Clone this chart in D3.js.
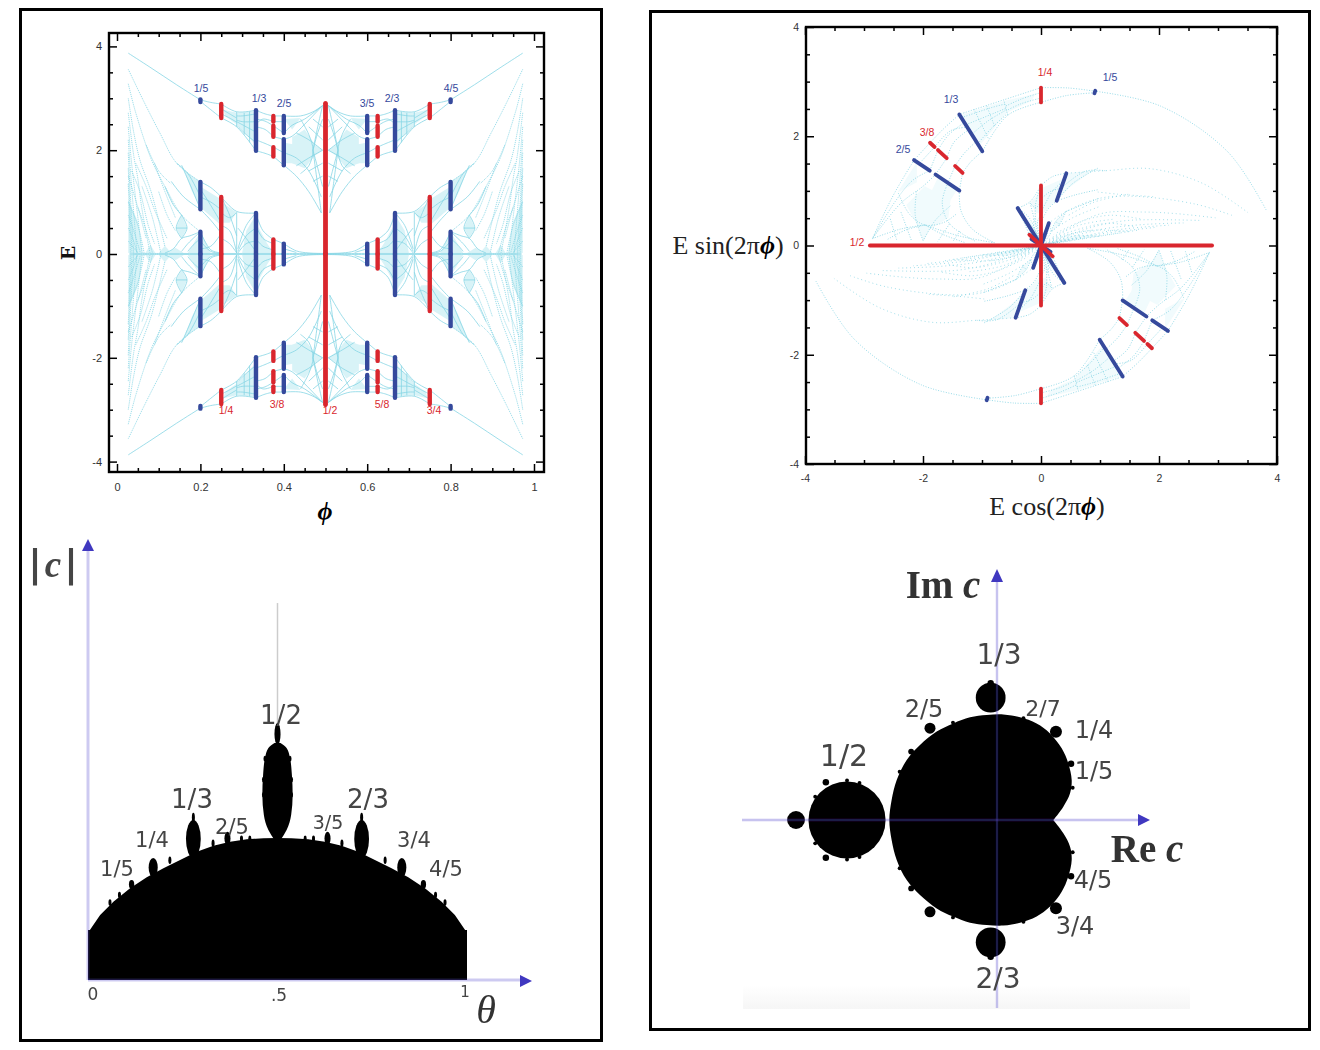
<!DOCTYPE html>
<html><head><meta charset="utf-8"><title>Butterfly and Mandelbrot</title>
<script src="https://cdn.jsdelivr.net/npm/d3@7/dist/d3.min.js"></script>
<style>html,body{margin:0;padding:0;background:#fff}svg{display:block}</style></head>
<body><svg id="c" width="1320" height="1050"></svg>
<script>
// ---------- Butterfly data: one quadrant (phi <= .5, E >= 0); the others follow by symmetry
const blueBars=[[.2,2.93,2.98],[.2,.86,1.39],[.2,0,.43],[.3333,1.99,2.77],[.3333,0,.79],[.4,2.33,2.66],[.4,1.71,2.21],[.4,0,.2]];
const redBars=[[.25,2.62,2.89],[.25,0,1.10],[.375,2.55,2.66],[.375,2.26,2.47],[.375,1.88,2.06],[.375,0,.28],[.5,0,2.9]];
const solidStrands=[
[.027,3.87,.079,3.60,.143,3.26,.2,2.97],[.2,2.97,.225,2.92,.25,2.89],[.2,2.94,.225,2.78,.25,2.62],
[.25,2.89,.287,2.74,.333,2.77],[.25,2.62,.287,2.45,.333,1.99],[.25,2.8,.27,2.7,.287,2.62],[.25,2.7,.27,2.62,.287,2.54],
[.287,2.45,.287,2.74],[.333,2.70,.30,2.66,.287,2.66],[.333,2.55,.30,2.55,.287,2.58],[.333,2.35,.31,2.45,.287,2.55],[.333,2.15,.31,2.3,.287,2.48],
[.305,2.72,.305,2.3],[.318,2.74,.318,2.15],
[.333,2.77,.355,2.70,.375,2.66],[.333,2.60,.355,2.56,.375,2.47],[.333,2.45,.355,2.40,.375,2.26],[.333,1.99,.355,1.94,.375,1.88],[.333,2.2,.355,2.13,.375,2.06],[.333,2.5,.35,2.6,.375,2.55],
[.375,2.66,.4,2.66],[.375,2.55,.4,2.55],[.375,2.47,.4,2.33],[.375,2.26,.4,2.21],[.375,2.06,.4,1.95],[.375,1.88,.4,1.71],
[.4,2.66,.44,2.66,.47,2.74,.493,2.86],[.4,2.33,.42,2.48,.45,2.6,.493,2.86],[.4,2.21,.42,2.27,.45,2.5,.493,2.86],
[.4,1.71,.43,1.5,.46,1.2,.49,.79],[.4,1.95,.43,1.85,.46,1.6,.49,1.1],
[.43,2.33,.46,2.2,.493,2.0],[.43,1.7,.46,1.85,.493,2.0],[.46,2.45,.493,2.2],[.46,1.6,.493,1.75],[.47,2.6,.493,2.45],[.47,1.4,.493,1.5],
[.44,2.6,.46,2.3,.47,2.0,.46,1.7,.44,1.55],[.493,2.86,.48,2.4,.47,2.0],[.49,.79,.48,1.4,.47,2.0],[.493,2.6,.48,2.3,.47,2.0],[.493,1.3,.48,1.7,.47,2.0],
[.333,.79,.35,.45,.375,.28],[.333,.55,.35,.3,.375,.2],[.333,.3,.35,.15,.375,.08],[.375,.28,.4,.2],[.4,.2,.43,.06,.46,.02,.5,.01],[.4,.1,.43,.03],
[.25,1.10,.287,.82,.333,.79],[.333,.79,.31,.55,.29,.1],[.333,.5,.31,.35,.29,.05],[.333,.25,.31,.2,.29,.02],[.29,.5,.31,.3,.333,.05],
[.25,.8,.27,.7,.287,.8],[.25,1.1,.27,.75,.287,.35],[.25,.55,.27,.45,.287,.02],[.25,.3,.27,.2,.287,.02],[.287,.8,.287,.02],
[.2,1.39,.225,1.28,.25,1.10],[.2,.86,.225,.65,.25,.4],[.2,1.1,.225,1.0,.25,.85],[.2,1.25,.22,1.0,.25,.6],[.2,.43,.225,.08,.25,.02],[.2,.25,.225,.05,.25,.01],[.2,.1,.225,.15,.25,.4],
[.143,1.75,.17,1.55,.2,1.1],[.155,1.71,.18,1.25,.2,.86],[.115,1.30,.135,.95,.155,.75],[.13,1.4,.16,1.1,.2,.86],
[.2,.43,.175,.35,.155,.3,.135,.1,.115,.02],[.155,.05,.17,.2,.2,.43],[.17,.05,.18,.15,.2,.3],[.155,.75,.168,.5,.155,.3],[.155,.75,.142,.5,.155,.3],[.142,.5,.168,.5],
[.03,.01,.1,.01,.2,.01,.3,.01,.4,.01,.5,.01]];
const dottedStrands=[
[.027,3.56,.063,2.96,.103,2.33,.143,1.75,.2,1.39],[.027,3.28,.045,2.72,.083,1.81,.115,1.30,.155,.75,.2,.43],
[.027,3.0,.04,2.35,.055,1.81,.083,1.17,.115,.14],[.027,2.72,.04,1.9,.05,1.45,.059,.91,.079,.02],
[.027,2.45,.035,1.75,.045,1.05,.06,.02],[.027,2.2,.035,1.3,.048,.02],[.027,1.95,.033,1,.04,.02],[.027,1.65,.036,.02],[.027,1.35,.03,.7,.032,.02],
[.027,1.0,.05,.55,.065,.02],[.027,.75,.04,.45,.056,.02],[.027,.5,.04,.25,.048,.02],[.05,.9,.07,.45,.085,.02],[.06,1.3,.085,.7,.105,.02],
[.027,1.5,.05,.9,.07,.3],[.035,1.6,.055,1.2,.075,.55,.09,.2],[.045,1.75,.07,1.3,.09,.85,.12,.3],[.027,.25,.04,.12,.05,.02],
[.07,2.1,.1,1.6,.13,1.35],[.09,1.75,.115,1.2,.14,.7],[.1,1.2,.12,.75,.14,.45]];
const cellPolys=[
[.027,.02,.027,1.05,.05,.62,.062,.02],[.42,2.25,.45,2.4,.475,2.1,.495,2.0,.475,1.9,.45,1.65,.42,1.75],
[.17,.02,.2,.43,.2,.02],[.2,.02,.2,.43,.225,.02],[.3,.02,.31,.45,.333,.75,.333,.02],[.333,.02,.333,.6,.36,.2,.375,.02],
[.255,2.78,.287,2.72,.287,2.5,.26,2.65],[.287,2.72,.333,2.75,.333,2.1,.287,2.5],[.2,1.3,.25,1.05,.25,.55,.2,.9],[.25,1.0,.287,.8,.27,.6,.25,.6],
[.4,2.6,.44,2.62,.42,2.4],[.4,2.15,.43,2.1,.43,1.75,.4,1.75],[.155,.75,.168,.5,.155,.3,.142,.5],[.1,.02,.115,.16,.13,.02],[.068,.02,.08,.18,.092,.02],[.16,1.62,.2,1.39,.2,.88,.18,1.2],[.12,.02,.14,.12,.16,.02]];
// labels: text, x, y in page pixels for the text centre
const labelsA=[["1/5",201,88,"b"],["1/3",259,98,"b"],["2/5",284,103,"b"],["3/5",367,103,"b"],["2/3",392,98,"b"],["4/5",451,88,"b"],["1/4",226,410,"r"],["3/8",277,404,"r"],["1/2",330,410,"r"],["5/8",382,404,"r"],["3/4",434,410,"r"]];
const labelsB=[["1/4",1045,72,"r"],["1/5",1110,77,"b"],["1/3",951,99,"b"],["3/8",927,132,"r"],["2/5",903,149,"b"],["1/2",857,242,"r"]];
const phiMajor=[0,.2,.4,.6,.8,1], phiMinor=[.05,.1,.15,.25,.3,.35,.45,.5,.55,.65,.7,.75,.85,.9,.95];
const eMajor=[-4,-2,0,2,4], eMinor=[-3.5,-3,-2.5,-1.5,-1,-.5,.5,1,1.5,2.5,3,3.5];
// ---------- Mandelbrot-in-angle data (theta, |c|), left half
const domeTheta=[0,.005,.032,.067,.111,.155,.199,.243,.287,.331,.375,.419,.463,.5];
const domeMod=[.263,.263,.342,.412,.483,.541,.588,.632,.675,.707,.728,.741,.746,.747];
const halfBulbMod=[1.247,1.221,1.168,1.079,.974,.868,.789,.737];
const halfBulbWidth=[.008,.024,.033,.038,.04,.036,.024,.008];
const bulbsC=[[.5,1.237,1.353,.008],[.278,.642,.842,.0195],[.278,.83,.88,.004],[.172,.542,.642,.012],[.115,.48,.526,.007],[.368,.71,.78,.008],
[.058,.39,.425,.004],[.083,.43,.465,.004],[.216,.61,.65,.004],[.33,.7,.74,.004],[.405,.725,.76,.004],[.427,.73,.76,.004],[.467,1.15,1.18,.004],[.463,.96,.99,.004],[.463,1.04,1.07,.004]];
const labelsC=[["1/2",281,715,26],["1/3",192,799,26],["2/3",368,799,26],["1/4",152,839,21],["3/4",414,839,21],["1/5",117,868,21],["4/5",446,868,21],["2/5",232,826,21],["3/5",328,822,19],["0",93,994,17],[".5",279,995,17],["1",465,992,15]];
// ---------- Mandelbrot set in the plane, upper half outline
const cardRe=[.252,.313,.354,.364,.343,.303,.232,.150,.049,-.053,-.154,-.256,-.358,-.459,-.561,-.642,-.703,-.734,-.748];
const cardIm=[0,.083,.166,.248,.352,.445,.538,.600,.638,.656,.652,.638,.600,.549,.466,.373,.248,.124,0];
const discsD=[[-1.006,0,.238],[-1.317,0,.055],[-.13,.76,.092],[-.13,.85,.02],[.268,.548,.037],[-.5,.57,.034],[-.615,.425,.018],[.36,.35,.02],[.37,.2,.012],
[-.36,.605,.012],[.07,.632,.012],[-.685,.3,.012],[-1.135,.235,.02],[-1.006,.245,.012],[-.93,.23,.012],[-1.2,.145,.012]];
const labelsD=[["1/3",999,654,28],["2/5",924,708,24],["2/7",1043,708,22],["1/4",1094,729,24],["1/5",1094,770,24],["1/2",844,755,30],["4/5",1093,879,24],["3/4",1075,925,24],["2/3",998,978,28]];

const BLUE="#34489c",RED="#d9272e",CYAN="#86d5e4",GREY="#444";
const svg=d3.select("#c");
const defs=svg.append("defs");
defs.append("filter").attr("id","soft").append("feGaussianBlur").attr("stdDeviation",.55);
defs.append("filter").attr("id","softer").append("feGaussianBlur").attr("stdDeviation",.3);
const fade=defs.append("linearGradient").attr("id","fade").attr("x1",0).attr("x2",0).attr("y1",0).attr("y2",1);
fade.append("stop").attr("offset",0).attr("stop-color","#fff");fade.append("stop").attr("offset",1).attr("stop-color","#f6f6f6");

svg.append("rect").attr("width",1320).attr("height",1050).attr("fill","#fff");
svg.append("rect").attr("x",20.5).attr("y",9.5).attr("width",581).attr("height",1031).attr("fill","none").attr("stroke","#000").attr("stroke-width",3);
svg.append("rect").attr("x",650.5).attr("y",11.5).attr("width",659).attr("height",1018).attr("fill","none").attr("stroke","#000").attr("stroke-width",3);

const pairs=a=>d3.range(0,a.length,2).map(i=>[a[i],a[i+1]]);
const mirrorsAll=[(p,e)=>[p,e],(p,e)=>[1-p,e],(p,e)=>[p,-e],(p,e)=>[1-p,-e]];
const mirrorsHalf=[(p,e)=>[p,e],(p,e)=>[p,-e]];

function frameAxes(g,x,y,xMaj,yMaj,xMin,box,major,minor,font){
  const [L,R,T,B]=box;
  const add=(ax,tx,ty,vals,size,fmt,pad)=>{
    const a=g.append("g").attr("transform",`translate(${tx},${ty})`)
      .call(ax.tickValues(vals).tickSizeInner(-size).tickSizeOuter(0).tickPadding(pad).tickFormat(fmt));
    a.select(".domain").remove();
    a.selectAll("line").attr("stroke","#000").attr("stroke-width",1.5);
    a.selectAll("text").attr("fill","#333").attr("font-family","Liberation Sans").attr("font-size",font);
  };
  const none=()=>"",lab=v=>String(v);
  add(d3.axisBottom(x),0,B,xMaj,major,lab,11); add(d3.axisLeft(y),L,0,yMaj,major,lab,7);
  add(d3.axisTop(x),0,T,xMaj,major,none,0); add(d3.axisRight(y),R,0,yMaj,major,none,0);
  add(d3.axisBottom(x),0,B,xMin,minor,none,0); add(d3.axisTop(x),0,T,xMin,minor,none,0);
  add(d3.axisLeft(y),L,0,eMinor,minor,none,0); add(d3.axisRight(y),R,0,eMinor,minor,none,0);
  g.append("rect").attr("x",L).attr("y",T).attr("width",R-L).attr("height",B-T).attr("fill","none").attr("stroke","#000").attr("stroke-width",2.4);
}
function labelText(g,rows){
  g.selectAll(null).data(rows).join("text").text(d=>d[0]).attr("x",d=>d[1]).attr("y",d=>d[2]).attr("dy",".35em")
   .attr("text-anchor","middle").attr("font-family","Liberation Sans").attr("font-size",10.5)
   .attr("fill",d=>d[3]==="b"?BLUE:RED);
}
function butterfly(g,project,mirrors,opts){
  const line=d3.line().curve(d3.curveCatmullRom.alpha(.5));
  const polyLine=d3.line().curve(d3.curveLinearClosed);
  const cells=g.append("g").attr("fill","#9fe0ec").attr("opacity",opts.cell);
  cellPolys.forEach(c=>mirrors.forEach(m=>cells.append("path").attr("d",polyLine(pairs(c).map(([p,e])=>project(...m(p,e)))))));
  const solid=g.append("g").attr("fill","none").attr("stroke",CYAN).attr("stroke-width",opts.w).attr("stroke-dasharray",opts.solidDash);
  solidStrands.forEach(s=>mirrors.forEach(m=>solid.append("path").attr("d",line(pairs(s).map(([p,e])=>project(...m(p,e)))))));
  const dot=g.append("g").attr("fill","none").attr("stroke",CYAN).attr("stroke-width",opts.w).attr("stroke-dasharray",opts.dotDash);
  dottedStrands.forEach(s=>mirrors.forEach(m=>dot.append("path").attr("d",line(pairs(s).map(([p,e])=>project(...m(p,e)))))));
  [[blueBars,BLUE],[redBars,RED]].forEach(([bars,col])=>{
    const b=g.append("g").attr("stroke",col).attr("stroke-width",opts.bar).attr("stroke-linecap","round");
    bars.forEach(([p,lo,hi])=>mirrors.forEach(m=>{
      const a=project(...m(p,lo)),c=project(...m(p,hi));
      b.append("line").attr("x1",a[0]).attr("y1",a[1]).attr("x2",c[0]).attr("y2",c[1]);
    }));
  });
}

// ---------- Panel A
const xA=d3.scaleLinear().domain([0,1]).range([117,534]);
const yA=d3.scaleLinear().domain([-4,4]).range([461.6,46.4]);
const gA=svg.append("g");
const gAm=gA.append("g").attr("filter","url(#softer)");
butterfly(gAm,(p,e)=>[xA(p),yA(e)],mirrorsAll,{w:.8,solidDash:null,dotDash:"1.2 .9",cell:.4,bar:4.4});
frameAxes(gA,xA,yA,phiMajor,eMajor,phiMinor,[109,544,33,472],8,4,11);
labelText(gA,labelsA);
gA.append("text").text("E").attr("transform","translate(75,253) rotate(-90)").attr("text-anchor","middle")
  .attr("font-family","DejaVu Serif").attr("font-weight","bold").attr("font-size",19).attr("fill","#111");
gA.append("text").text("ϕ").attr("x",325).attr("y",520).attr("text-anchor","middle")
  .attr("font-family","Liberation Serif").attr("font-weight","bold").attr("font-style","italic").attr("font-size",26).attr("fill","#000");

// ---------- Panel B
const xB=d3.scaleLinear().domain([-4,4]).range([805,1277]);
const yB=d3.scaleLinear().domain([-4,4]).range([464,27]);
const gB=svg.append("g");
const gBm=gB.append("g").attr("filter","url(#softer)");
butterfly(gBm,(p,e)=>[xB(e*Math.cos(2*Math.PI*p)),yB(e*Math.sin(2*Math.PI*p))],mirrorsHalf,{w:.85,solidDash:"1 1.6",dotDash:"0.9 3",cell:.14,bar:3.8});
frameAxes(gB,xB,yB,eMajor,eMajor,eMinor,[806,1277,27,464],8,4,10.5);
labelText(gB,labelsB);
const serif="Liberation Serif";
function axisTitle(x,y,pre){
  const t=gB.append("text").attr("x",x).attr("y",y).attr("text-anchor","middle").attr("font-family",serif).attr("font-size",26).attr("fill","#222");
  t.append("tspan").text(pre+"(2π");
  t.append("tspan").text("ϕ").attr("font-weight","bold").attr("font-style","italic").attr("fill","#000");
  t.append("tspan").text(")");
}
axisTitle(728,254,"E sin");
axisTitle(1047,515,"E cos");

// ---------- Panel C
const xC=d3.scaleLinear().domain([0,1]).range([88,467]);
const yC=d3.scaleLinear().domain([0,2]).range([980,600]);
const gC=svg.append("g").attr("filter","url(#soft)");
const right=domeTheta.map((t,i)=>[1-t,domeMod[i]]).reverse();
const dome=[[0,0],...domeTheta.map((t,i)=>[t,domeMod[i]]),...right.slice(1),[1,0]];
gC.append("path").attr("d",d3.line().x(d=>xC(d[0])).y(d=>yC(d[1])).curve(d3.curveLinear)(dome)+"Z").attr("fill","#000");
gC.append("line").attr("x1",xC(.5)).attr("x2",xC(.5)).attr("y1",yC(1.984)).attr("y2",yC(1.34)).attr("stroke","#ccc").attr("stroke-width",1.5);
gC.append("path").attr("d",d3.area().y(d=>yC(d[0])).x0(d=>xC(.5-d[1])).x1(d=>xC(.5+d[1])).curve(d3.curveMonotoneY)(halfBulbMod.map((m,i)=>[m,halfBulbWidth[i]]))).attr("fill","#000");
const bulbRows=bulbsC.flatMap(b=>b[0]===.5?[b]:[b,[1-b[0],b[1],b[2],b[3]]]);
gC.selectAll("ellipse").data(bulbRows).join("ellipse")
  .attr("cx",d=>xC(d[0])).attr("cy",d=>yC((d[1]+d[2])/2))
  .attr("rx",d=>xC(d[3])-xC(0)).attr("ry",d=>(yC(d[1])-yC(d[2]))/2).attr("fill","#000");
const axisC=gC.append("g").attr("stroke","#5a50d0").attr("stroke-opacity",.3).attr("stroke-width",3);
axisC.append("line").attr("x1",xC(0)).attr("x2",xC(0)).attr("y1",yC(0)).attr("y2",546);
axisC.append("line").attr("x1",xC(0)).attr("x2",522).attr("y1",yC(0)).attr("y2",yC(0));
gC.append("path").attr("d","M88,539L82,551L94,551Z").attr("fill","#4038c0");
gC.append("path").attr("d","M532,981L520,975L520,987Z").attr("fill","#4038c0");
gC.selectAll("text.lab").data(labelsC).join("text").attr("class","lab").text(d=>d[0]).attr("x",d=>d[1]).attr("y",d=>d[2]).attr("dy",".36em")
  .attr("text-anchor","middle").attr("font-family","DejaVu Sans").attr("font-size",d=>d[3]).attr("fill",GREY);
const cm=gC.append("text").attr("x",53).attr("y",577).attr("text-anchor","middle").attr("font-family",serif).attr("font-weight","bold").attr("font-size",37).attr("fill","#444");
cm.append("tspan").text("|").attr("font-family","DejaVu Sans");cm.append("tspan").text("c").attr("font-style","italic").attr("dx",3);cm.append("tspan").text("|").attr("font-family","DejaVu Sans").attr("dx",3);
gC.append("text").text("θ").attr("x",486).attr("y",1023).attr("text-anchor","middle").attr("font-family",serif).attr("font-style","italic").attr("font-size",40).attr("fill","#333");

// ---------- Panel D
const xD=d3.scaleLinear().domain([-1.5,.8]).range([1012-1.5*164,1012+.8*164]);
const yD=d3.scaleLinear().domain([-1,1]).range([820+161,820-161]);
svg.append("rect").attr("x",743).attr("y",985).attr("width",447).attr("height",24).attr("fill","url(#fade)");
const gD=svg.append("g").attr("filter","url(#soft)");
const upper=cardRe.map((r,i)=>[r,cardIm[i]]);
const lower=upper.slice(1,-1).reverse().map(([r,m])=>[r,-m]);
gD.append("path").attr("d",d3.line().x(d=>xD(d[0])).y(d=>yD(d[1])).curve(d3.curveCatmullRom)([...upper,...lower,upper[0]])+"Z").attr("fill","#000");
const discRows=discsD.flatMap(d=>d[1]===0?[d]:[d,[d[0],-d[1],d[2]]]);
gD.selectAll("circle").data(discRows).join("circle").attr("cx",d=>xD(d[0])).attr("cy",d=>yD(d[1])).attr("r",d=>d[2]*162).attr("fill","#000");
const axisD=gD.append("g").attr("stroke","#5a50d0").attr("stroke-opacity",.34).attr("stroke-width",2.4);
axisD.append("line").attr("x1",742).attr("x2",1140).attr("y1",yD(0)).attr("y2",yD(0));
axisD.append("line").attr("x1",997).attr("x2",997).attr("y1",1008).attr("y2",580);
gD.append("path").attr("d","M1150,820L1138,814L1138,826Z").attr("fill","#4038c0");
gD.append("path").attr("d","M997,569L991,582L1003,582Z").attr("fill","#4038c0");
gD.selectAll("text.lab").data(labelsD).join("text").attr("class","lab").text(d=>d[0]).attr("x",d=>d[1]).attr("y",d=>d[2]).attr("dy",".36em")
  .attr("text-anchor","middle").attr("font-family","DejaVu Sans").attr("font-size",d=>d[3]).attr("fill",GREY);
function boldTitle(x,y,a){
  const t=gD.append("text").attr("x",x).attr("y",y).attr("text-anchor","middle").attr("font-family",serif).attr("font-weight","bold").attr("font-size",39).attr("fill","#333");
  t.append("tspan").text(a+" ");t.append("tspan").text("c").attr("font-style","italic");
}
boldTitle(943,598,"Im");
boldTitle(1147,862,"Re");
</script></body></html>
